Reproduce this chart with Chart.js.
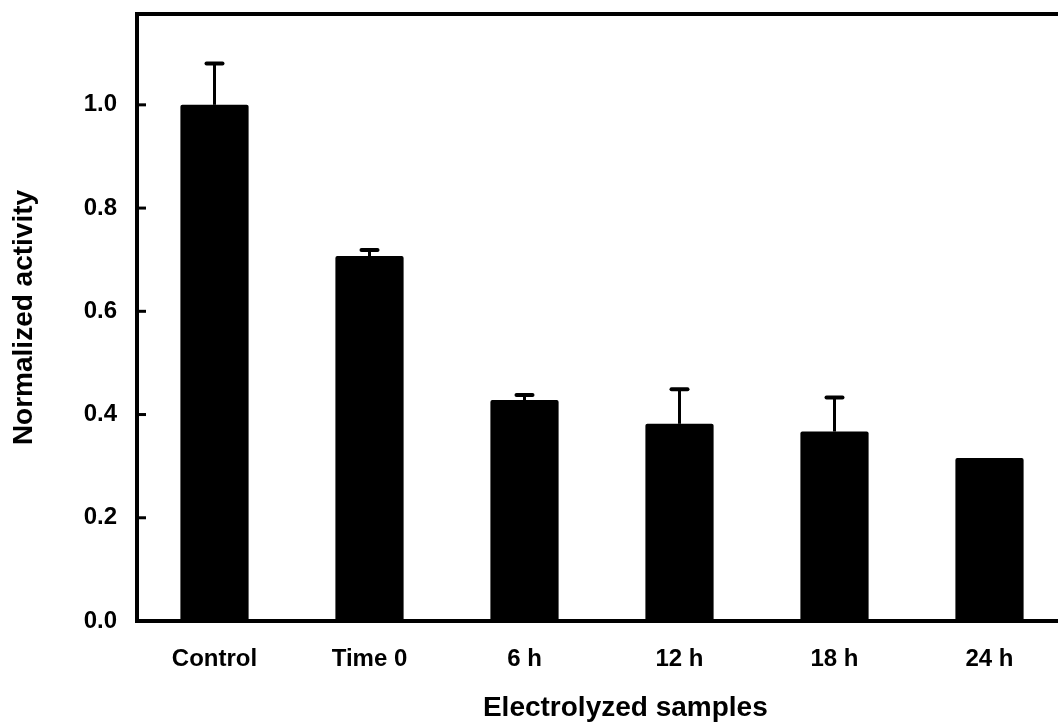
<!DOCTYPE html>
<html>
<head>
<meta charset="utf-8">
<script src="https://cdn.jsdelivr.net/npm/chart.js@4.4.0/dist/chart.umd.min.js"></script>
<style>
  html, body { margin: 0; padding: 0; background: #fff; overflow: hidden; }
  #caja { width: 1058px; height: 728px; overflow: hidden; }
</style>
</head>
<body>
<div id="caja"><canvas id="grafico" width="1080" height="728"></canvas></div>
<script>
// datos
const categorias = ['Control', 'Time 0', '6 h', '12 h', '18 h', '24 h'];
const actividad = [1.0, 0.707, 0.428, 0.382, 0.367, 0.316];
const errorSup = [0.08, 0.012, 0.010, 0.067, 0.066, 0];
const ticksY = [0.0, 0.2, 0.4, 0.6, 0.8, 1.0];

const fuente = "'Liberation Sans', Arial, sans-serif";

// barras de error (solo la mitad superior) y marco
const marcoYErrores = {
    id: 'marcoYErrores',
    afterDatasetsDraw(chart) {
        const ctx = chart.ctx;
        const y = chart.scales.y;
        const meta = chart.getDatasetMeta(0);
        ctx.save();
        ctx.strokeStyle = '#000';
        meta.data.forEach((barra, i) => {
            if (!errorSup[i]) return;
            const yTop = y.getPixelForValue(actividad[i] + errorSup[i]);
            ctx.lineWidth = 3;
            ctx.lineCap = 'butt';
            ctx.beginPath();
            ctx.moveTo(barra.x, barra.y);
            ctx.lineTo(barra.x, yTop);
            ctx.stroke();
            ctx.lineWidth = 4;
            ctx.lineCap = 'round';
            ctx.beginPath();
            ctx.moveTo(barra.x - 8, yTop);
            ctx.lineTo(barra.x + 8, yTop);
            ctx.stroke();
        });
        // marcas hacia dentro en el eje y
        ctx.lineWidth = 3;
        ctx.lineCap = 'butt';
        const area = chart.chartArea;
        ticksY.forEach(v => {
            const py = y.getPixelForValue(v);
            ctx.beginPath();
            ctx.moveTo(area.left, py);
            ctx.lineTo(area.left + 9, py);
            ctx.stroke();
        });
        ctx.lineWidth = 4;
        ctx.lineCap = 'square';
        ctx.strokeRect(area.left, area.top, area.right - area.left, area.bottom - area.top);
        ctx.restore();
    }
};

const data = {
    labels: categorias,
    datasets: [{
        label: 'Normalized activity',
        data: actividad,
        backgroundColor: '#000',
        borderWidth: 0,
        borderRadius: 2,
        borderSkipped: 'bottom',
        barPercentage: 0.44,
        categoryPercentage: 1.0
    }]
};

const config = {
    type: 'bar',
    data: data,
    options: {
        responsive: false,
        animation: false,
        layout: { padding: { top: 14, right: 13, left: 0, bottom: 0 } },
        plugins: {
            legend: { display: false },
            tooltip: { enabled: false }
        },
        scales: {
            x: {
                grid: { display: false, drawTicks: false },
                border: { display: false },
                ticks: {
                    color: '#000',
                    padding: 24,
                    font: { family: fuente, size: 24, weight: 'bold' }
                },
                title: {
                    display: true,
                    text: '      Electrolyzed samples',
                    color: '#000',
                    padding: { top: 0, bottom: 3 },
                    font: { family: fuente, size: 28, weight: 'bold' }
                },
                afterFit(scale) { scale.height = 107; }
            },
            y: {
                min: 0,
                max: 1.176,
                grid: { display: false, drawTicks: false },
                border: { display: false },
                ticks: {
                    color: '#000',
                    padding: 20,
                    stepSize: 0.2,
                    font: { family: fuente, size: 24, weight: 'bold' },
                    callback: v => v.toFixed(1)
                },
                afterBuildTicks(scale) {
                    scale.ticks = ticksY.map(v => ({ value: v }));
                },
                title: {
                    display: true,
                    text: 'Normalized activity',
                    color: '#000',
                    padding: { top: 7, bottom: 0 },
                    font: { family: fuente, size: 28, weight: 'bold' }
                },
                afterFit(scale) {
                    scale.width = 137;
                    scale.paddingTop = 0;
                    scale.paddingBottom = 0;
                }
            }
        }
    },
    plugins: [marcoYErrores]
};

const ctx = document.getElementById('grafico').getContext('2d');
new Chart(ctx, config);
</script>
</body>
</html>
